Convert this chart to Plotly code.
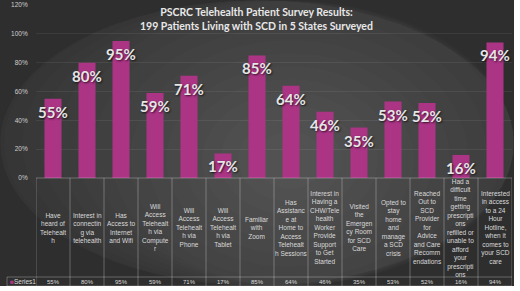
import plotly.graph_objects as go

categories = [
    "Have<br>heard of<br>Telehealt<br>h",
    "Interest in<br>connectin<br>g via<br>telehealth",
    "Has<br>Access to<br>Internet<br>and Wifi",
    "Will<br>Access<br>Telehealt<br>h via<br>Compute<br>r",
    "Will<br>Access<br>Telehealt<br>h via<br>Phone",
    "Will<br>Access<br>Telehealt<br>h via<br>Tablet",
    "Familiar<br>with<br>Zoom",
    "Has<br>Assistanc<br>e at<br>Home to<br>Access<br>Telehealt<br>h Sessions",
    "Interest in<br>Having a<br>CHW/Tele<br>health<br>Worker<br>Provide<br>Support<br>to Get<br>Started",
    "Visited<br>the<br>Emergen<br>cy Room<br>for SCD<br>Care",
    "Opted to<br>stay<br>home<br>and<br>manage<br>a SCD<br>crisis",
    "Reached<br>Out to<br>SCD<br>Provider<br>for<br>Advice<br>and Care<br>Recomm<br>endations",
    "Had a<br>difficult<br>time<br>getting<br>prescripti<br>ons<br>refilled or<br>unable to<br>afford<br>your<br>prescripti<br>ons",
    "Interested<br>in access<br>to a 24<br>Hour<br>Hotline,<br>when it<br>comes to<br>your SCD<br>care",
]
values = [55, 80, 95, 59, 71, 17, 85, 64, 46, 35, 53, 52, 16, 94]
series_name = "Series1"
title_lines = ["PSCRC Telehealth Patient Survey Results:",
               "199 Patients Living with SCD in 5 States Surveyed"]

W, H = 520, 291
def px(x): return x / W
def py(y): return 1 - y / H

BAR = "#ab3485"
TXT = "#dadada"
LINE = "rgba(255,255,255,0.28)"

idx = list(range(len(categories)))
fig = go.Figure()
fig.add_trace(go.Bar(x=idx, y=[v / 100 for v in values], width=0.5,
                     marker=dict(color=BAR, line=dict(width=0)),
                     hoverinfo="skip", showlegend=False))

shapes = []
shapes.append(dict(type="rect", xref="paper", yref="paper", x0=0, x1=px(514), y0=py(286), y1=1,
                   fillcolor="#2e2e2e", line=dict(width=0), layer="below"))
N = 18
for k in range(N):
    rx = 340 - k * 18
    ry = 250 - k * 13
    cx, cy = 290, 160
    shapes.append(dict(type="circle", xref="paper", yref="paper",
                       x0=px(max(cx - rx, 0)), x1=px(min(cx + rx, 514)),
                       y0=py(min(cy + ry, 286)), y1=py(max(cy - ry, 0)),
                       fillcolor="rgba(255,255,255,0.013)", line=dict(width=0), layer="below"))

top, mid, bot = 178, 277, 286
shapes.append(dict(type="line", xref="paper", yref="paper", x0=px(36), x1=px(512), y0=py(top), y1=py(top),
                   line=dict(color=LINE, width=1)))
for yy in (mid, bot):
    shapes.append(dict(type="line", xref="paper", yref="paper", x0=px(7), x1=px(512), y0=py(yy), y1=py(yy),
                       line=dict(color=LINE, width=1)))
shapes.append(dict(type="line", xref="paper", yref="paper", x0=px(7), x1=px(7), y0=py(mid), y1=py(bot),
                   line=dict(color=LINE, width=1)))
for i in range(len(categories) + 1):
    shapes.append(dict(type="line", xref="x", yref="paper", x0=i - 0.5, x1=i - 0.5,
                       y0=py(top), y1=py(bot), line=dict(color=LINE, width=1)))

ann = []
for i, (c, v) in enumerate(zip(categories, values)):
    ann.append(dict(x=i, y=py((top + mid) / 2), xref="x", yref="paper", text=c, showarrow=False,
                    xanchor="center", yanchor="middle", align="center",
                    font=dict(family="Liberation Sans", size=6.5, color=TXT)))
    ann.append(dict(x=i, y=py((mid + bot) / 2), xref="x", yref="paper", text=f"{v}%", showarrow=False,
                    xanchor="center", yanchor="middle",
                    font=dict(family="Liberation Sans", size=6, color=TXT)))
    ann.append(dict(x=i, y=v / 100, xref="x", yref="y", text=f"{v}%", showarrow=False,
                    xanchor="center", yanchor="middle", yshift=-13,
                    font=dict(family="Lato", size=15, color="#e6e6e6", weight="bold",
                              shadow="1px 1px 2px rgba(0,0,0,0.7)")))
ann.append(dict(x=px(8), y=py((mid + bot) / 2), xref="paper", yref="paper",
                text=f'<span style="color:{BAR}">■</span>{series_name}', showarrow=False,
                xanchor="left", yanchor="middle", font=dict(family="Liberation Sans", size=6.5, color=TXT)))
ann.append(dict(x=px(256), y=py(19.5), xref="paper", yref="paper",
                text="<br>".join(title_lines), showarrow=False, xanchor="center", yanchor="middle",
                align="center",
                font=dict(family="Lato", size=10.5, color="#e8e8e8", weight="bold")))

fig.update_layout(
    width=W, height=H, margin=dict(l=0, r=0, t=0, b=0, autoexpand=False),
    paper_bgcolor="white", plot_bgcolor="rgba(0,0,0,0)",
    shapes=shapes, annotations=ann,
    xaxis=dict(domain=[px(36), px(512)], range=[-0.5, len(categories) - 0.5], automargin=False,
               showticklabels=False, showgrid=False, zeroline=False, ticks=""),
    yaxis=dict(domain=[py(178), py(5)], range=[0, 1.2], dtick=0.2, tickformat=".0%", automargin=False,
               showgrid=True, gridcolor="rgba(255,255,255,0.07)", gridwidth=1, zeroline=False,
               ticks="outside", ticklen=6, tickcolor="rgba(0,0,0,0)",
               tickfont=dict(family="Liberation Sans", size=6.5, color="#cfcfcf")),
)
fig.write_html("out.html", config={"displayModeBar": False},
               post_script="document.body.style.margin='0';document.body.style.overflow='hidden';")
